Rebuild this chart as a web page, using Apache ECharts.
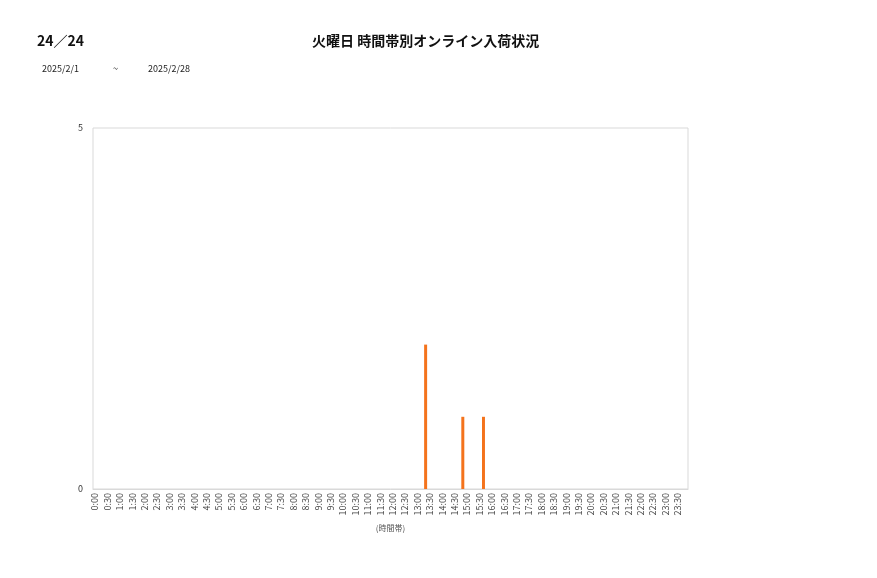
<!DOCTYPE html>
<html><head><meta charset="utf-8">
<script src="https://cdn.jsdelivr.net/npm/echarts@6/dist/echarts.min.js"></script>
<style>html,body{margin:0;padding:0;background:#fff}#c{width:877px;height:578px}</style>
</head><body><div id="c"></div>
<script>
const pageLabel = '24／24';
const chartTitle = '火曜日 時間帯別オンライン入荷状況';
const dateFrom = '2025/2/1';
const dateSep = '~';
const dateTo = '2025/2/28';
// 10-minute time slots, labelled every 30 minutes
const categories = [];
for (let h = 0; h < 24; h++) {
  for (let m = 0; m < 60; m += 10) categories.push(h + ':' + (m === 0 ? '00' : String(m)));
}
// arrivals per slot (only non-zero slots listed)
const arrivalSlots = ['13:20', '14:50', '15:40'];
const arrivalCounts = [2, 1, 1];
const yTicks = [0, 5];
const xAxisName = '(時間帯)';

const arrivals = categories.map(c => {
  const i = arrivalSlots.indexOf(c);
  return i >= 0 ? arrivalCounts[i] : 0;
});

const font = '"Noto Sans CJK JP", "Noto Sans", sans-serif';
const chart = echarts.init(document.getElementById('c'));
chart.setOption({
  animation: false,
  textStyle: { fontFamily: font },
  graphic: [
    { type: 'text', left: 37, top: 34, style: { text: pageLabel, font: 'bold 14px ' + font, fill: '#111' } },
    { type: 'text', left: 312, top: 34, style: { text: chartTitle, font: 'bold 14px ' + font, fill: '#111' } },
    { type: 'text', left: 42, top: 64, style: { text: dateFrom, font: '9px ' + font, fill: '#222' } },
    { type: 'text', left: 113, top: 64, style: { text: dateSep, font: '9px ' + font, fill: '#222' } },
    { type: 'text', left: 148, top: 64, style: { text: dateTo, font: '9px ' + font, fill: '#222' } }
  ],
  grid: { left: 93, right: 189, top: 128, bottom: 89, show: true, borderColor: '#d9d9d9', borderWidth: 1, containLabel: false },
  xAxis: {
    type: 'category', data: categories,
    name: xAxisName, nameLocation: 'middle', nameGap: 35,
    nameTextStyle: { fontSize: 8, color: '#555', fontFamily: font },
    axisTick: { show: false },
    axisLine: { lineStyle: { color: '#d9d9d9' } },
    axisLabel: { interval: 2, rotate: 90, fontSize: 9, color: '#444', margin: 4, fontFamily: font }
  },
  yAxis: {
    type: 'value', min: yTicks[0], max: yTicks[yTicks.length - 1], interval: yTicks[1] - yTicks[0],
    axisLine: { show: false }, axisTick: { show: false },
    splitLine: { show: false },
    axisLabel: { fontSize: 9, color: '#333', margin: 10 }
  },
  series: [{
    type: 'bar', data: arrivals, barWidth: 3,
    itemStyle: { color: '#f4731c' }
  }]
});
</script></body></html>
